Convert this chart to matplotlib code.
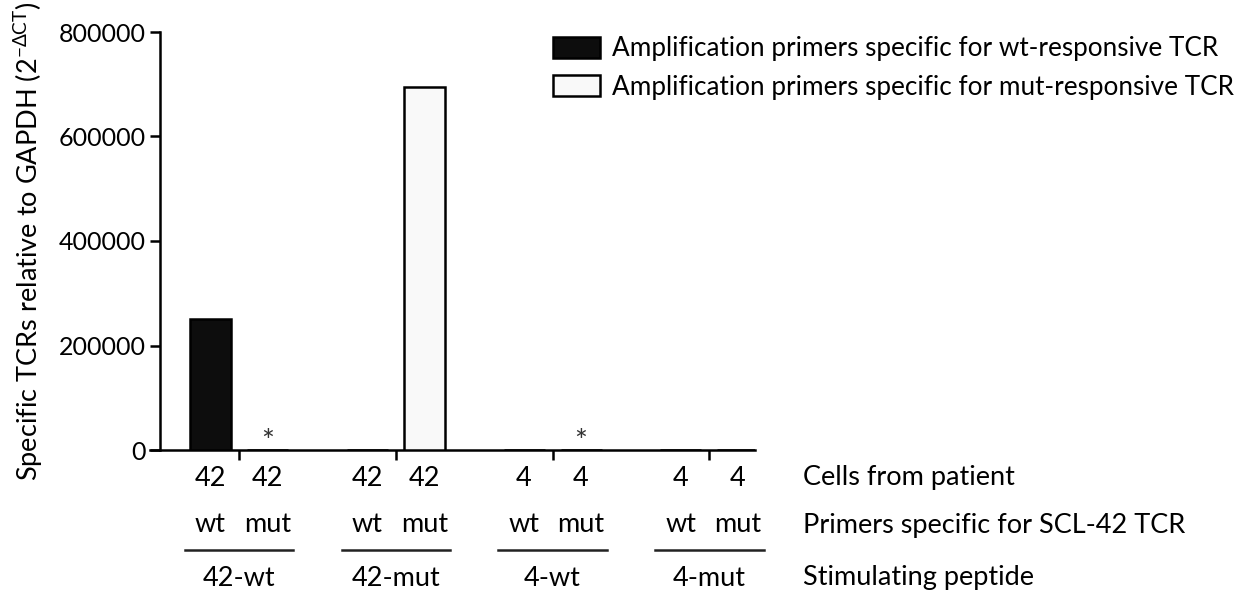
import matplotlib
matplotlib.use('Agg')
import matplotlib.pyplot as plt
import matplotlib.transforms as mtransforms
from matplotlib.patches import Patch
import numpy as np

plt.rcParams['font.family'] = ['Lato', 'DejaVu Sans']
plt.rcParams['mathtext.default'] = 'regular'

# data
peptides = ['42-wt', '42-mut', '4-wt', '4-mut']
patients = ['42', '42', '42', '42', '4', '4', '4', '4']
primers = ['wt', 'mut', 'wt', 'mut', 'wt', 'mut', 'wt', 'mut']
values = [250000, 0, 0, 695000, 0, 0, 0, 0]
starred = [False, True, False, False, False, True, False, False]
legend_labels = ['Amplification primers specific for wt-responsive TCR',
                 'Amplification primers specific for mut-responsive TCR']
row_labels = ['Cells from patient', 'Primers specific for SCL-42 TCR', 'Stimulating peptide']
yticks = [0, 200000, 400000, 600000, 800000]

fs = 19.5
tick_fs = 18
leg_fs = 18.8
group_gap = 2.75
group_centers = np.arange(len(peptides)) * group_gap
xpos = np.concatenate([[c - 0.5, c + 0.5] for c in group_centers])
colors = ['#0d0d0d' if p == 'wt' else '#f9f9f9' for p in primers]

fig = plt.figure(figsize=(12.55, 5.94), dpi=100)
ax = fig.add_axes([150 / 1255, 144 / 594, 605 / 1255, 418 / 594])

ax.bar(xpos, values, width=0.72, color=colors, edgecolor='black', linewidth=1.8, zorder=3)
for x, v, s in zip(xpos, values, starred):
    if s:
        ax.text(x, v - 11000, '*', ha='center', va='bottom', fontsize=22, color='#333333')

ax.set_xlim(-1.56, 9.05)
ax.set_ylim(0, 800000)
ax.spines['top'].set_visible(False)
ax.spines['right'].set_visible(False)
ax.spines['left'].set_position(('data', -1.39))
ax.spines['left'].set_linewidth(1.8)
ax.spines['bottom'].set_linewidth(1.8)

ax.set_yticks(yticks)
ax.set_yticklabels([str(t) for t in yticks], fontsize=tick_fs)
ax.tick_params(axis='y', length=7, width=1.8, pad=3)
ax.set_xticks(group_centers)
ax.set_xticklabels([])
ax.tick_params(axis='x', length=7, width=1.8, direction='out')

ax.set_ylabel(r'Specific TCRs relative to GAPDH (2$^{-\Delta CT}$)', fontsize=fs)
ax.yaxis.set_label_coords(-0.174, 0.5)

# labels below the axis
trans = mtransforms.blended_transform_factory(ax.transData, fig.transFigure)
row_y = [1 - 478 / 594, 1 - 525 / 594, 1 - 578 / 594]
line_y = 1 - 550 / 594
for x, pat, pr in zip(xpos, patients, primers):
    ax.text(x, row_y[0], pat, transform=trans, ha='center', va='center', fontsize=fs, clip_on=False)
    ax.text(x, row_y[1], pr, transform=trans, ha='center', va='center', fontsize=fs, clip_on=False)
for c, pep in zip(group_centers, peptides):
    ax.plot([c - 0.95, c + 0.95], [line_y, line_y], transform=trans, color='#222222', lw=1.8, clip_on=False)
    ax.text(c, row_y[2], pep, transform=trans, ha='center', va='center', fontsize=fs, clip_on=False)
for y, lab in zip(row_y, row_labels):
    fig.text(803 / 1255, y, lab, ha='left', va='center', fontsize=fs)

handles = [Patch(facecolor='#0d0d0d', edgecolor='black', linewidth=1.8),
           Patch(facecolor='#f9f9f9', edgecolor='black', linewidth=1.8)]
fig.legend(handles, legend_labels, loc='upper left', bbox_to_anchor=(543 / 1255, 1 - 26 / 594),
           frameon=False, fontsize=leg_fs, handlelength=1.8, handleheight=0.85,
           handletextpad=0.45, labelspacing=0.5, borderaxespad=0)

fig.savefig('out.png', dpi=100)
